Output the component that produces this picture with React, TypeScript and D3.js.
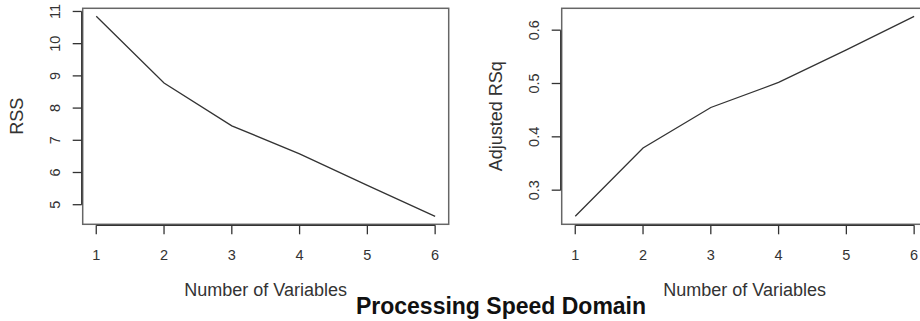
import React from 'react';
import * as d3 from 'd3';

// number of variables in the model
const nVars = [1, 2, 3, 4, 5, 6];
// residual sum of squares per model size
const rss = [10.85, 8.78, 7.45, 6.58, 5.6, 4.64];
// adjusted R squared per model size
const adjR2 = [0.251, 0.379, 0.455, 0.502, 0.563, 0.626];

const rssTicks = [5, 6, 7, 8, 9, 10, 11];
const adjTicks = [0.3, 0.4, 0.5, 0.6];

const W = 920;
const H = 321;
const top = 8.3;
const bottom = 224.3;
const plotW = 366;
const font = 'Liberation Sans, Arial, Helvetica, sans-serif';

// R style "r" axis: pad data range by 4% on each side
const padded = (vals: number[]) => {
  const [lo, hi] = d3.extent(vals) as [number, number];
  const p = (hi - lo) * 0.04;
  return [lo - p, hi + p];
};

type PanelProps = {
  left: number;
  values: number[];
  yTicks: number[];
  yLabel: string;
  fmt: (v: number) => string;
};

const Panel = ({ left, values, yTicks, yLabel, fmt }: PanelProps) => {
  const x = d3.scaleLinear().domain(padded(nVars)).range([left, left + plotW]);
  const y = d3.scaleLinear().domain(padded(values)).range([bottom, top]);
  const line = d3
    .line<number>()
    .x((d, i) => x(nVars[i]))
    .y((d) => y(d));
  const axisX = left - 1;
  const axisY = bottom + 1;

  return (
    <g>
      <rect
        x={left}
        y={top}
        width={plotW}
        height={bottom - top}
        fill="none"
        stroke="#666"
        strokeWidth={1.5}
      />
      <path d={line(values) || ''} fill="none" stroke="#333" strokeWidth={1.3} />

      {/* y axis */}
      <line
        x1={axisX}
        x2={axisX}
        y1={y(yTicks[0])}
        y2={y(yTicks[yTicks.length - 1])}
        stroke="#333"
        strokeWidth={1.3}
      />
      {yTicks.map((t) => (
        <g key={t}>
          <line x1={axisX - 9} x2={axisX} y1={y(t)} y2={y(t)} stroke="#333" strokeWidth={1.3} />
          <text
            transform={`translate(${left - 23},${y(t)}) rotate(-90)`}
            textAnchor="middle"
            fontSize={14.5}
            fill="#333"
            fontFamily={font}
          >
            {fmt(t)}
          </text>
        </g>
      ))}

      {/* x axis */}
      <line
        x1={x(nVars[0])}
        x2={x(nVars[nVars.length - 1])}
        y1={axisY}
        y2={axisY}
        stroke="#333"
        strokeWidth={1.3}
      />
      {nVars.map((t) => (
        <g key={t}>
          <line x1={x(t)} x2={x(t)} y1={axisY} y2={axisY + 9} stroke="#333" strokeWidth={1.3} />
          <text x={x(t)} y={259.5} textAnchor="middle" fontSize={14.5} fill="#333" fontFamily={font}>
            {t}
          </text>
        </g>
      ))}

      <text
        x={left + plotW / 2}
        y={295.5}
        textAnchor="middle"
        fontSize={18}
        fill="#333"
        fontFamily={font}
      >
        Number of Variables
      </text>
      <text
        transform={`translate(${left - 59.5},${(top + bottom) / 2}) rotate(-90)`}
        textAnchor="middle"
        fontSize={18}
        fill="#333"
        fontFamily={font}
      >
        {yLabel}
      </text>
    </g>
  );
};

export default function App() {
  return (
    <div style={{ position: 'fixed', left: 0, top: 0 }}>
      <svg width={W} height={H} style={{ display: 'block', background: '#fff' }}>
        <Panel left={82.7} values={rss} yTicks={rssTicks} yLabel="RSS" fmt={(v) => String(v)} />
        <Panel
          left={561.7}
          values={adjR2}
          yTicks={adjTicks}
          yLabel="Adjusted RSq"
          fmt={(v) => v.toFixed(1)}
        />
        <text
          x={501}
          y={314}
          textAnchor="middle"
          fontSize={23}
          fontWeight="bold"
          fill="#111"
          fontFamily={font}
        >
          Processing Speed Domain
        </text>
      </svg>
    </div>
  );
}
